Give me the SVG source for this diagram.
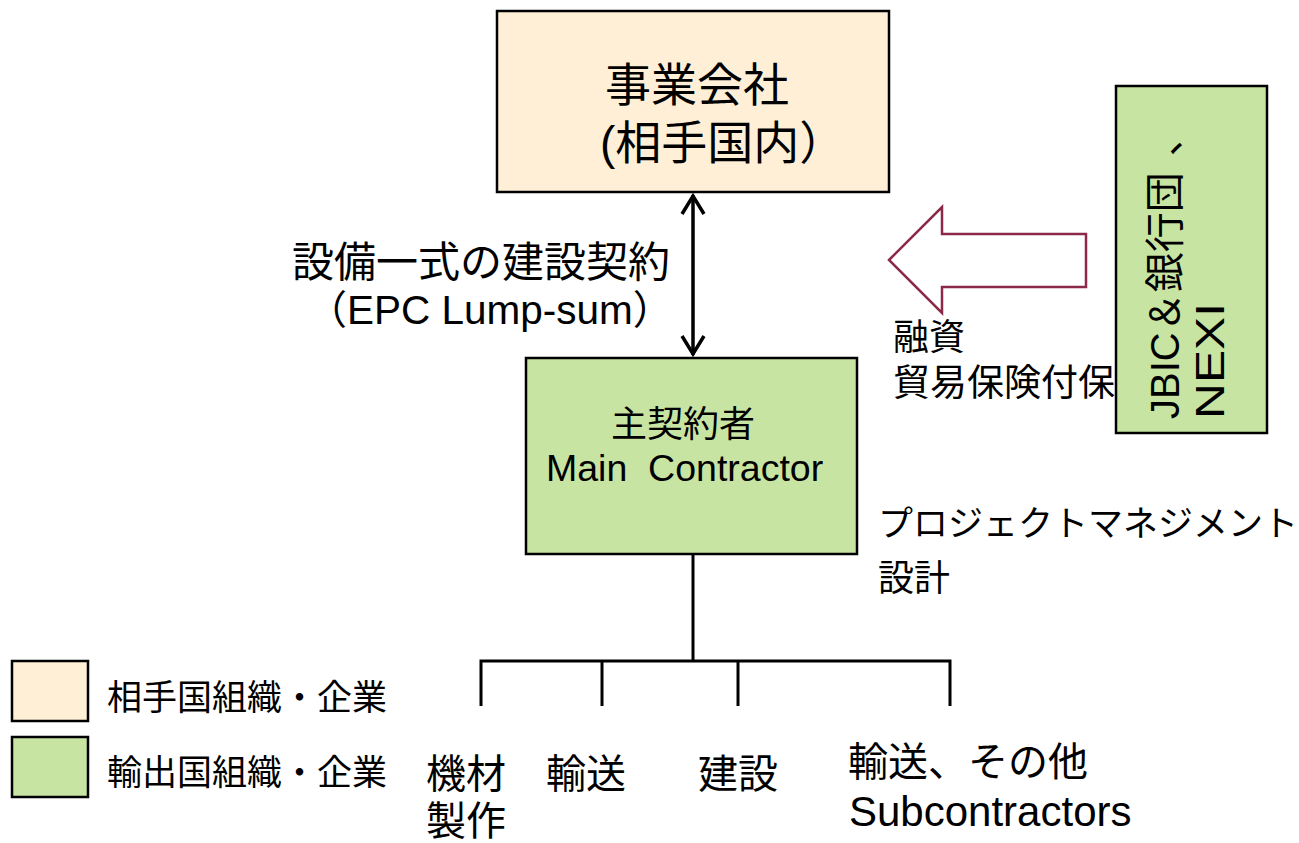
<svg xmlns="http://www.w3.org/2000/svg" width="1299" height="843" viewBox="0 0 1299 843">
<style>
  text { font-family: "Liberation Sans", "Noto Sans CJK JP", sans-serif; fill: #000; }
  .box { stroke: #000; stroke-width: 2.5; }
  .beige { fill: #FEEFD6; }
  .green { fill: #C8E4A2; }
  .line { stroke: #000; stroke-width: 3; fill: none; }
  .dbl { stroke: #000; stroke-width: 3.5; fill: none; }
</style>
<rect width="1299" height="843" fill="#fff"/>

<g id="client">
  <rect class="box beige" x="497" y="11" width="392" height="181"/>
  <text x="605" y="101" font-size="46">事業会社</text>
  <text x="600" y="159" font-size="46">(相手国内）</text>
</g>

<g id="main-contractor">
  <rect class="box green" x="526" y="358" width="331" height="196"/>
  <text x="611" y="437" font-size="36">主契約者</text>
  <text x="546" y="481" font-size="37.5" xml:space="preserve">Main  Contractor</text>
</g>

<g id="finance">
  <text x="893" y="350" font-size="36">融資</text>
  <text x="893" y="396" font-size="37">貿易保険付保</text>
  <rect class="box green" x="1116" y="86" width="151" height="347"/>
  <text transform="translate(1179,419) rotate(-90)" font-size="40">JBIC＆銀行団<tspan dx="16">、</tspan></text>
  <text transform="translate(1224,419) rotate(-90)" font-size="40" textLength="116" lengthAdjust="spacingAndGlyphs">NEXI</text>
</g>

<g id="finance-arrow">
  <polygon points="889,260 942,207 942,234 1086,234 1086,287 942,287 942,313" fill="#fff" stroke="#8B2A48" stroke-width="2.5" stroke-linejoin="miter"/>
</g>

<g id="contract-label">
  <text x="670" y="277" font-size="42" text-anchor="end">設備一式の建設契約</text>
  <text x="307" y="324"><tspan font-size="40">（</tspan><tspan font-size="40.5">EPC Lump-sum</tspan><tspan font-size="40">）</tspan></text>
</g>

<g id="scope-label">
  <text x="878" y="536" font-size="35">プロジェクトマネジメント</text>
  <text x="878" y="591" font-size="36">設計</text>
</g>

<g id="sub-fabrication">
  <text x="426" y="788" font-size="40">機材</text>
  <text x="426" y="835" font-size="40">製作</text>
</g>
<g id="sub-transport">
  <text x="546" y="788" font-size="40">輸送</text>
</g>
<g id="sub-construction">
  <text x="698" y="788" font-size="40">建設</text>
</g>
<g id="sub-others">
  <text x="848" y="776" font-size="40">輸送、その他</text>
  <text x="849" y="826" font-size="42">Subcontractors</text>
</g>

<g id="legend">
  <rect class="box beige" x="12" y="661" width="76" height="60"/>
  <text x="107" y="710" font-size="35">相手国組織・企業</text>
  <rect class="box green" x="12" y="737" width="76" height="60"/>
  <text x="107" y="785" font-size="35">輸出国組織・企業</text>
</g>

<g id="connectors">
  <line class="dbl" x1="693" y1="195" x2="693" y2="355"/>
  <path class="dbl" d="M682,214 L693,196 L704,214"/>
  <path class="dbl" d="M682,336 L693,354 L704,336"/>
  <line class="line" x1="693" y1="554" x2="693" y2="661"/>
  <path class="line" d="M481,706 L481,661 L950,661 L950,706"/>
  <line class="line" x1="602" y1="661" x2="602" y2="706"/>
  <line class="line" x1="738" y1="661" x2="738" y2="706"/>
</g>
</svg>
